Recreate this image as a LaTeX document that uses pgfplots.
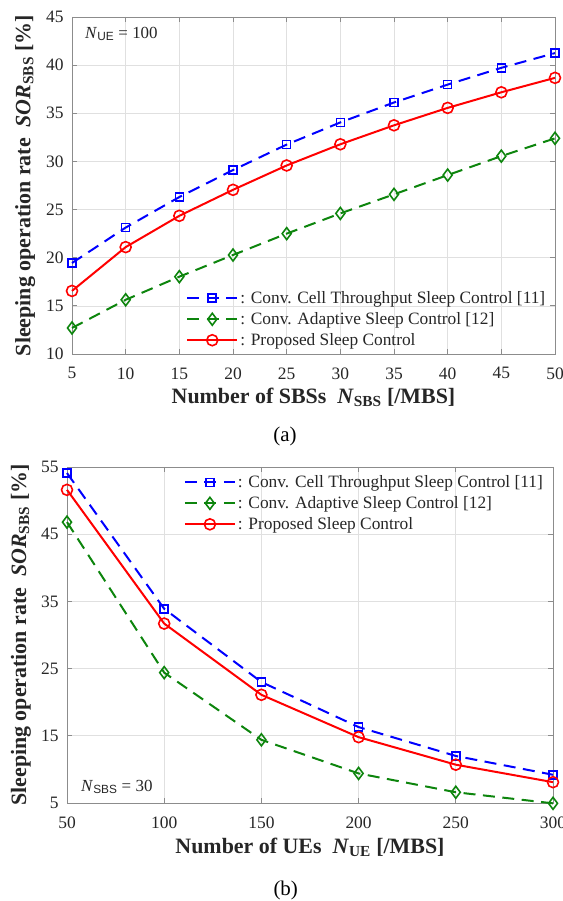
\documentclass[border=0pt]{standalone}
\usepackage{fontspec}
\setmainfont{Liberation Serif}
\setsansfont{Liberation Sans}
\usepackage{pgfplots}
\pgfplotsset{compat=1.18}

\definecolor{mblue}{rgb}{0,0,1}
\definecolor{mgreen}{rgb}{0.05,0.52,0.05}
\definecolor{mred}{rgb}{1,0,0}

\pgfplotsset{
 myaxis/.style={
   scale only axis,
   clip=false,
   grid=major,
   major grid style={black!12, line width=0.7bp},
   axis line style={black!45, line width=0.8bp},
   tick style={black!45, line width=0.8bp},
   tick align=inside,
   major tick length=5bp,
   /pgf/number format/assume math mode=true,
   ticklabel style={font=\fontsize{17.5}{20}\selectfont, text=black!85},
   xticklabel style={yshift=-10bp},
   yticklabel style={xshift=-5bp},
   label style={font=\fontsize{22}{26}\selectfont\bfseries, text=black!85},
   legend cell align=left,
   legend style={draw=none, fill=none, font=\fontsize{17.4}{20}\selectfont, text=black!85,
     row sep=3.5bp,
     /tikz/every even column/.append style={column sep=0pt}},
   legend image code/.code={\draw[mark repeat=2,mark phase=2,##1] plot coordinates {(0bp,0bp) (25bp,0bp) (50bp,0bp)};},
 },
 blueS/.style={mblue, line width=2bp, dash pattern=on 12bp off 7.5bp, mark=square, mark size=4bp, mark options={solid, line width=1.6bp}},
 greenD/.style={mgreen, line width=2bp, dash pattern=on 12bp off 7.5bp, mark=diamond, mark size=6bp, mark options={solid, line width=1.6bp}},
 redC/.style={mred, line width=2bp, solid, mark=o, mark size=5.5bp, mark options={solid, line width=1.6bp}},
}

\begin{document}
\begin{tikzpicture}
\useasboundingbox (0,0) rectangle (563bp,901bp);

% ---------------- (a) ----------------
\begin{axis}[myaxis,
  at={(72bp,547bp)}, anchor=south west,
  width=483bp, height=337bp,
  xmin=5, xmax=50, ymin=10, ymax=45,
  xtick={5,10,...,50}, ytick={10,15,...,45},
  xlabel={Number of SBSs\ \ \textit{N}\textsubscript{SBS} [/MBS]},
  ylabel={Sleeping operation rate\ \ \textit{SOR}\textsubscript{SBS} [\%]},
  xlabel style={at={(axis description cs:0.5,-0.147)}, anchor=base},
  ylabel style={at={(axis description cs:-0.097,0.5)}, anchor=center},
  legend style={at={(0.23,0.198)}, anchor=north west},
]
\addplot[blueS] coordinates {(5,19.45) (10,23.13) (15,26.3) (20,29.1) (25,31.75) (30,34.05) (35,36.12) (40,37.98) (45,39.72) (50,41.25)};
\addlegendentry{: Conv. Cell Throughput Sleep Control [11]}
\addplot[greenD] coordinates {(5,12.7) (10,15.63) (15,18.03) (20,20.28) (25,22.5) (30,24.6) (35,26.58) (40,28.58) (45,30.55) (50,32.4)};
\addlegendentry{: Conv. Adaptive Sleep Control [12]}
\addplot[redC] coordinates {(5,16.55) (10,21.1) (15,24.35) (20,27.05) (25,29.58) (30,31.78) (35,33.75) (40,35.56) (45,37.18) (50,38.68)};
\addlegendentry{: Proposed Sleep Control}
\node[anchor=west, font=\fontsize{17}{20}\selectfont, text=black!85] at (axis description cs:0.02,0.95) {\textit{N}\textsubscript{\sffamily UE} = 100};
\node[font=\fontsize{21}{25}\selectfont] at (axis description cs:0.441,-0.245) {(a)};
\end{axis}

% ---------------- (b) ----------------
\begin{axis}[myaxis,
  at={(67bp,98bp)}, anchor=south west,
  width=486bp, height=336bp,
  xmin=50, xmax=300, ymin=5, ymax=55,
  xtick={50,100,...,300}, ytick={5,15,...,55},
  xlabel={Number of UEs\ \ \textit{N}\textsubscript{UE} [/MBS]},
  ylabel={Sleeping operation rate\ \ \textit{SOR}\textsubscript{SBS} [\%]},
  xlabel style={at={(axis description cs:0.5,-0.149)}, anchor=base},
  ylabel style={at={(axis description cs:-0.095,0.5)}, anchor=center},
  legend style={at={(0.234,0.987)}, anchor=north west},
]
\addplot[blueS] coordinates {(50,54.1) (100,33.9) (150,23.0) (200,16.3) (250,12.0) (300,9.2)};
\addlegendentry{: Conv. Cell Throughput Sleep Control [11]}
\addplot[greenD] coordinates {(50,46.8) (100,24.4) (150,14.4) (200,9.4) (250,6.6) (300,4.95)};
\addlegendentry{: Conv. Adaptive Sleep Control [12]}
\addplot[redC] coordinates {(50,51.6) (100,31.7) (150,21.1) (200,14.8) (250,10.7) (300,8.1)};
\addlegendentry{: Proposed Sleep Control}
\node[anchor=west, font=\fontsize{17}{20}\selectfont, text=black!85] at (axis description cs:0.022,0.048) {\textit{N}\textsubscript{\sffamily SBS} = 30};
\node[font=\fontsize{21}{25}\selectfont] at (axis description cs:0.45,-0.259) {(b)};
\end{axis}
\end{tikzpicture}
\end{document}
